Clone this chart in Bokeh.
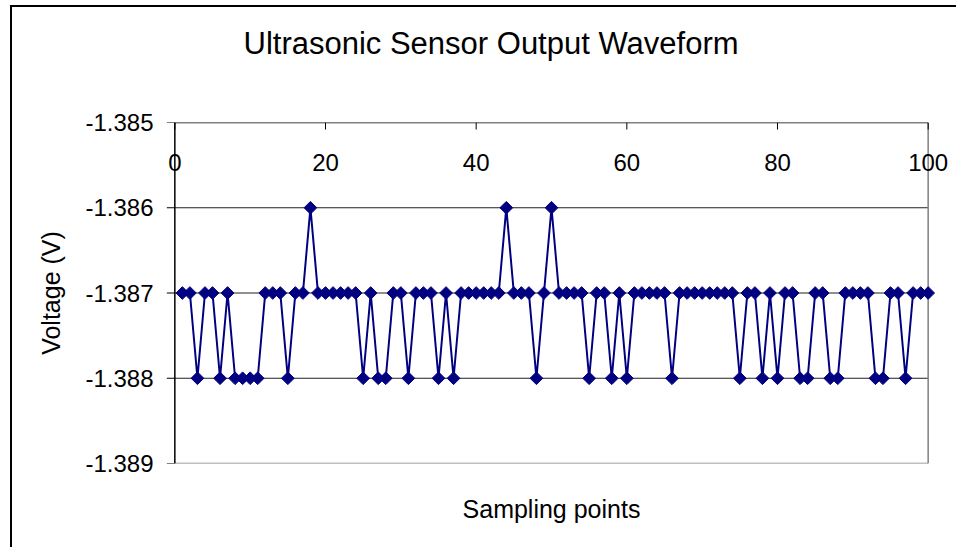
import numpy as np
from bokeh.plotting import figure
from bokeh.models import (Range1d, LinearAxis, FixedTicker, ColumnDataSource, LabelSet, Title)
from bokeh.core.properties import value
from bokeh.embed import file_html
from bokeh.resources import INLINE

# ---- data ----
samples = list(range(1, 101))
voltage = [
    -1.387, -1.387, -1.388, -1.387, -1.387, -1.388, -1.387, -1.388, -1.388, -1.388,
    -1.388, -1.387, -1.387, -1.387, -1.388, -1.387, -1.387, -1.386, -1.387, -1.387,
    -1.387, -1.387, -1.387, -1.387, -1.388, -1.387, -1.388, -1.388, -1.387, -1.387,
    -1.388, -1.387, -1.387, -1.387, -1.388, -1.387, -1.388, -1.387, -1.387, -1.387,
    -1.387, -1.387, -1.387, -1.386, -1.387, -1.387, -1.387, -1.388, -1.387, -1.386,
    -1.387, -1.387, -1.387, -1.387, -1.388, -1.387, -1.387, -1.388, -1.387, -1.388,
    -1.387, -1.387, -1.387, -1.387, -1.387, -1.388, -1.387, -1.387, -1.387, -1.387,
    -1.387, -1.387, -1.387, -1.387, -1.388, -1.387, -1.387, -1.388, -1.387, -1.388,
    -1.387, -1.387, -1.388, -1.388, -1.387, -1.387, -1.388, -1.388, -1.387, -1.387,
    -1.387, -1.387, -1.388, -1.388, -1.387, -1.387, -1.388, -1.387, -1.387, -1.387,
]
x_ticks = [0, 20, 40, 60, 80, 100]
x_tick_labels = ["0", "20", "40", "60", "80", "100"]
y_ticks = [-1.389, -1.388, -1.387, -1.386, -1.385]
y_tick_labels = ["-1.389", "-1.388", "-1.387", "-1.386", "-1.385"]
y_grid = [-1.388, -1.387, -1.386]
title_text = "Ultrasonic Sensor Output Waveform"
x_title = "Sampling points"
y_title = "Voltage (V)"

FONT = "Liberation Sans"
NAVY = "#000080"

# ---- geometry ----
W, H = 946, 542
MB_L, MB_R, MB_T, MB_B = 142, 10, 115, 86
X_MIN, X_MAX = x_ticks[0], x_ticks[-1]
Y_MIN, Y_MAX = y_ticks[0], y_ticks[-1]
X_PAD = 2.7  # room so that edge labels / markers are not clipped
x_lo, x_hi = X_MIN - X_PAD, X_MAX + X_PAD
px_per_x = (W - MB_L - MB_R) / (x_hi - x_lo)
px_per_y = (H - MB_T - MB_B) / (Y_MAX - Y_MIN)
ytick_len = 8 / px_per_x
xtick_len = 7 / px_per_y

p = figure(width=W, height=H, output_backend="svg", toolbar_location=None,
           x_range=Range1d(x_lo, x_hi), y_range=Range1d(Y_MIN, Y_MAX),
           x_axis_location=None, y_axis_location=None,
           min_border_left=MB_L, min_border_right=MB_R,
           min_border_top=MB_T, min_border_bottom=MB_B)
p.background_fill_color = "white"
p.border_fill_color = "white"
p.outline_line_color = None
p.styles = {"margin-left": "12px", "margin-top": "7px",
            "box-shadow": "-2px -2px 0px 0px black"}
p.xgrid.visible = False
p.ygrid.visible = False

# left axis: labels and title only (line/ticks drawn below)
ya = LinearAxis(ticker=FixedTicker(ticks=y_ticks),
                major_label_overrides=dict(zip(y_ticks, y_tick_labels)),
                axis_label=y_title)
ya.axis_line_color = None
ya.major_tick_line_color = None
ya.major_tick_out = 0
ya.major_tick_in = 0
ya.minor_tick_line_color = None
ya.major_label_text_font = FONT
ya.major_label_text_font_size = "24px"
ya.major_label_text_color = "black"
ya.major_label_standoff = 1
ya.axis_label_text_font = FONT
ya.axis_label_text_font_size = "25px"
ya.axis_label_text_font_style = "normal"
ya.axis_label_text_color = "black"
ya.axis_label_standoff = 17
p.add_layout(ya, "left")

# bottom axis: title only
xb = LinearAxis(ticker=FixedTicker(ticks=[]), axis_label=x_title)
xb.axis_line_color = None
xb.major_tick_line_color = None
xb.minor_tick_line_color = None
xb.major_label_text_font_size = "0px"
xb.axis_label_text_font = FONT
xb.axis_label_text_font_size = "25px"
xb.axis_label_text_font_style = "normal"
xb.axis_label_text_color = "black"
xb.axis_label_standoff = 31
p.add_layout(xb, "below")

# title (spacer first so the title sits high above the plot area)
p.add_layout(Title(text=" ", text_font_size="1px", standoff=54), "above")
p.add_layout(Title(text=title_text, align="left", offset=89, text_font=FONT,
                   text_font_size="31px", text_font_style="normal",
                   text_color="black"), "above")

# gridlines
p.segment(x0=[X_MIN] * len(y_grid), x1=[X_MAX] * len(y_grid), y0=y_grid, y1=y_grid,
          line_color="#202020", line_width=1)
# plot-area border: right & bottom grey
p.segment(x0=[X_MAX, X_MIN], x1=[X_MAX, X_MAX], y0=[Y_MIN, Y_MIN], y1=[Y_MAX, Y_MIN],
          line_color="#808080", line_width=1.5)
# value axis line + ticks (left)
p.segment(x0=[X_MIN], x1=[X_MIN], y0=[Y_MIN], y1=[Y_MAX], line_color="black", line_width=1.5)
p.segment(x0=[X_MIN - ytick_len] * len(y_ticks), x1=[X_MIN] * len(y_ticks),
          y0=y_ticks, y1=y_ticks, line_color="black", line_width=1)
# category axis line + ticks (top, pointing down)
p.segment(x0=[X_MIN], x1=[X_MAX], y0=[Y_MAX], y1=[Y_MAX], line_color="black", line_width=1.5)
p.segment(x0=x_ticks, x1=x_ticks, y0=[Y_MAX] * len(x_ticks),
          y1=[Y_MAX - xtick_len] * len(x_ticks), line_color="black", line_width=1)

# x tick labels under the top axis line
lab_src = ColumnDataSource(dict(x=x_ticks, y=[Y_MAX] * len(x_ticks), text=x_tick_labels))
p.add_layout(LabelSet(x="x", y="y", text="text", source=lab_src, text_font=value(FONT),
                      text_font_size=value("24px"), text_align="center",
                      text_baseline="middle", y_offset=-40, text_color="black"))

# series
src = ColumnDataSource(dict(x=samples, y=voltage))
p.line("x", "y", source=src, line_color=NAVY, line_width=2)
p.scatter("x", "y", source=src, marker="square", size=9, angle=np.pi / 4,
          fill_color=NAVY, line_color=NAVY)

open("out.html", "w").write(file_html(p, INLINE))
